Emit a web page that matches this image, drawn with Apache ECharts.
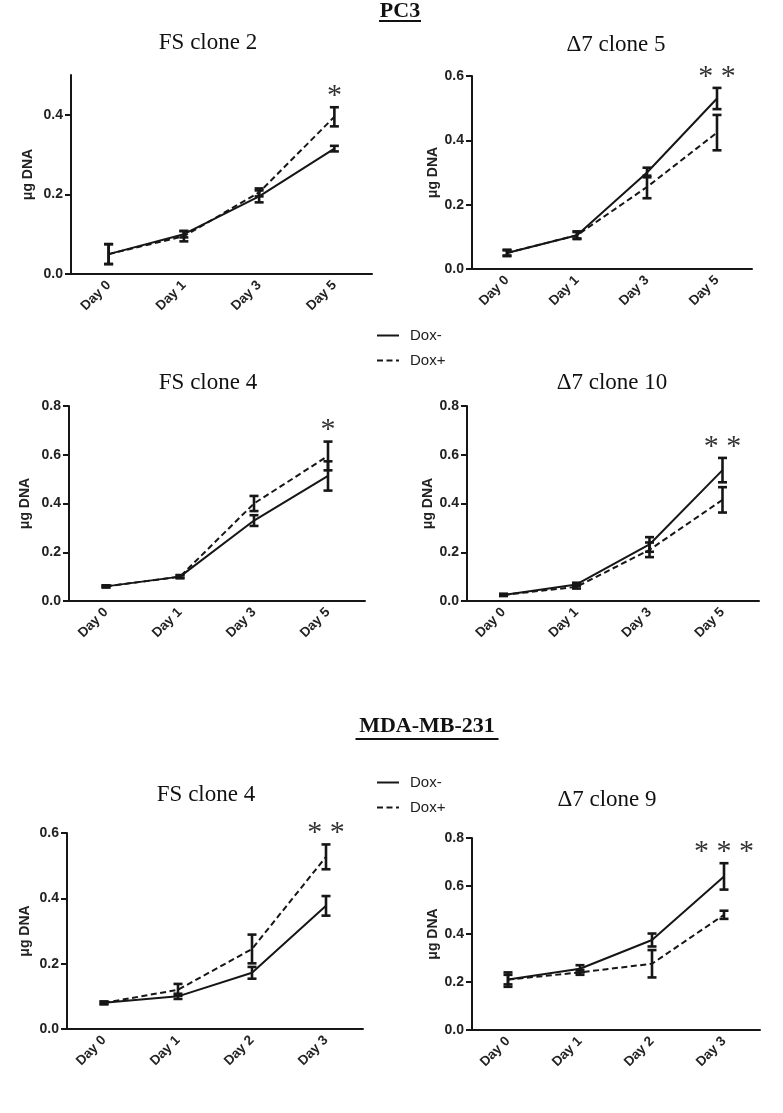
<!DOCTYPE html>
<html>
<head>
<meta charset="utf-8">
<script src="https://cdn.jsdelivr.net/npm/echarts@6/dist/echarts.min.js"></script>
<style>
html,body{margin:0;padding:0;background:#fff;}
#chart{width:783px;height:1113px;}
</style>
</head>
<body>
<div id="chart"></div>
<script>
// ---------- DATA ----------
const catsPC3 = ['Day 0', 'Day 1', 'Day 3', 'Day 5'];
const catsMDA = ['Day 0', 'Day 1', 'Day 2', 'Day 3'];
const seriesNames = ['Dox-', 'Dox+'];
const sectionTitles = ['PC3', 'MDA-MB-231'];
const panelTitles = ['FS clone 2', 'Δ7 clone 5', 'FS clone 4', 'Δ7 clone 10', 'FS clone 4', 'Δ7 clone 9'];
const sigLabels = ['*', '* *', '*', '* *', '* *', '* * *'];
const yAxisMax = [0.5, 0.6, 0.8, 0.8, 0.6, 0.8];
const yTicks02_04 = [0, 0.2, 0.4];
const yTicks02_06 = [0, 0.2, 0.4, 0.6];
const yTicks02_08 = [0, 0.2, 0.4, 0.6, 0.8];

// PC3 FS clone 2
const fs2Minus = [0.05, 0.10, 0.195, 0.315];
const fs2MinusErr = [0.025, 0.008, 0.015, 0.007];
const fs2Plus = [0.05, 0.095, 0.205, 0.395];
const fs2PlusErr = [0.025, 0.013, 0.01, 0.024];
// PC3 Δ7 clone 5
const d7c5Minus = [0.05, 0.105, 0.30, 0.53];
const d7c5MinusErr = [0.01, 0.012, 0.015, 0.033];
const d7c5Plus = [0.05, 0.105, 0.255, 0.424];
const d7c5PlusErr = [0.008, 0.01, 0.035, 0.055];
// PC3 FS clone 4
const fs4Minus = [0.06, 0.10, 0.33, 0.513];
const fs4MinusErr = [0.004, 0.006, 0.022, 0.06];
const fs4Plus = [0.06, 0.10, 0.40, 0.595];
const fs4PlusErr = [0.004, 0.006, 0.031, 0.059];
// PC3 Δ7 clone 10
const d7c10Minus = [0.025, 0.068, 0.232, 0.537];
const d7c10MinusErr = [0.004, 0.007, 0.03, 0.05];
const d7c10Plus = [0.025, 0.058, 0.21, 0.415];
const d7c10PlusErr = [0.004, 0.007, 0.03, 0.052];
// MDA-MB-231 FS clone 4
const mdaFs4Minus = [0.08, 0.10, 0.172, 0.377];
const mdaFs4MinusErr = [0.004, 0.008, 0.018, 0.03];
const mdaFs4Plus = [0.08, 0.12, 0.245, 0.527];
const mdaFs4PlusErr = [0.004, 0.018, 0.044, 0.038];
// MDA-MB-231 Δ7 clone 9
const d7c9Minus = [0.21, 0.255, 0.375, 0.64];
const d7c9MinusErr = [0.03, 0.015, 0.027, 0.055];
const d7c9Plus = [0.21, 0.24, 0.276, 0.48];
const d7c9PlusErr = [0.02, 0.01, 0.057, 0.017];

// ---------- LAYOUT ----------
const INK = '#161616';
const panels = [
  {cats: catsPC3, minus: fs2Minus, minusErr: fs2MinusErr, plus: fs2Plus, plusErr: fs2PlusErr, ticks: yTicks02_04,
   grid: {left: 71, top: 75, width: 301, height: 199}, titleX: 208, titleY: 43, nameGap: 36},
  {cats: catsPC3, minus: d7c5Minus, minusErr: d7c5MinusErr, plus: d7c5Plus, plusErr: d7c5PlusErr, ticks: yTicks02_06,
   grid: {left: 472, top: 76, width: 280, height: 193}, titleX: 616, titleY: 45, nameGap: 30},
  {cats: catsPC3, minus: fs4Minus, minusErr: fs4MinusErr, plus: fs4Plus, plusErr: fs4PlusErr, ticks: yTicks02_08,
   grid: {left: 69, top: 406, width: 296, height: 195}, titleX: 208, titleY: 383, nameGap: 37},
  {cats: catsPC3, minus: d7c10Minus, minusErr: d7c10MinusErr, plus: d7c10Plus, plusErr: d7c10PlusErr, ticks: yTicks02_08,
   grid: {left: 467, top: 406, width: 292, height: 195}, titleX: 612, titleY: 383, nameGap: 27},
  {cats: catsMDA, minus: mdaFs4Minus, minusErr: mdaFs4MinusErr, plus: mdaFs4Plus, plusErr: mdaFs4PlusErr, ticks: yTicks02_06,
   grid: {left: 67, top: 833, width: 296, height: 196}, titleX: 206, titleY: 795, nameGap: 35},
  {cats: catsMDA, minus: d7c9Minus, minusErr: d7c9MinusErr, plus: d7c9Plus, plusErr: d7c9PlusErr, ticks: yTicks02_08,
   grid: {left: 472, top: 838, width: 288, height: 192}, titleX: 607, titleY: 800, nameGap: 31}
];

const grids = [], xAxes = [], yAxes = [], series = [], graphics = [];

function errRender(params, api) {
  const x = api.value(0), lo = api.value(1), hi = api.value(2);
  const a = api.coord([x, lo]), b = api.coord([x, hi]);
  const hw = 4.5;
  const st = {stroke: INK, lineWidth: 2.6};
  return {type: 'group', children: [
    {type: 'line', shape: {x1: a[0], y1: a[1], x2: b[0], y2: b[1]}, style: st},
    {type: 'line', shape: {x1: a[0] - hw, y1: a[1], x2: a[0] + hw, y2: a[1]}, style: st},
    {type: 'line', shape: {x1: b[0] - hw, y1: b[1], x2: b[0] + hw, y2: b[1]}, style: st}
  ]};
}

panels.forEach((p, i) => {
  grids.push(Object.assign({containLabel: false}, p.grid));
  xAxes.push({
    type: 'category', gridIndex: i, data: p.cats, boundaryGap: true,
    axisLine: {lineStyle: {color: INK, width: 2}},
    axisTick: {alignWithLabel: true, length: 6, lineStyle: {color: INK, width: 2}},
    axisLabel: {rotate: 45, margin: 9, color: '#222', fontFamily: 'Liberation Sans', fontWeight: 'bold', fontSize: 13.5},
    splitLine: {show: false}
  });
  yAxes.push({
    type: 'value', gridIndex: i, min: 0, max: yAxisMax[i], interval: 0.2,
    name: 'μg DNA', nameLocation: 'middle', nameGap: p.nameGap, nameRotate: 90,
    nameTextStyle: {color: '#222', fontFamily: 'Liberation Sans', fontWeight: 'bold', fontSize: 14},
    axisLine: {show: true, lineStyle: {color: INK, width: 2}},
    axisTick: {show: true, length: 6, lineStyle: {color: INK, width: 2}, customValues: p.ticks},
    axisLabel: {color: '#222', fontFamily: 'Liberation Sans', fontWeight: 'bold', fontSize: 14, margin: 8,
      customValues: p.ticks, formatter: v => v.toFixed(1)},
    splitLine: {show: false}
  });
  const groups = [
    {name: seriesNames[0], vals: p.minus, errs: p.minusErr, dash: 'solid'},
    {name: seriesNames[1], vals: p.plus, errs: p.plusErr, dash: [6, 3.5]}
  ];
  groups.forEach(g => {
    series.push({
      type: 'line', name: g.name, xAxisIndex: i, yAxisIndex: i, data: g.vals,
      symbol: 'none', silent: true, animation: false,
      lineStyle: {color: INK, width: 2, type: g.dash}, itemStyle: {color: INK}
    });
    series.push({
      type: 'custom', name: g.name + ' err', xAxisIndex: i, yAxisIndex: i, renderItem: errRender,
      animation: false, silent: true, z: 3,
      data: g.vals.map((v, k) => [k, v - g.errs[k], v + g.errs[k]])
    });
  });
  // significance marker above the last time point
  const last = p.cats.length - 1;
  const top = Math.max(p.minus[last] + p.minusErr[last], p.plus[last] + p.plusErr[last]);
  series.push({
    type: 'custom', name: 'sig' + i, xAxisIndex: i, yAxisIndex: i, animation: false, silent: true,
    data: [[last, top]],
    renderItem: (params, api) => {
      const c = api.coord([api.value(0), api.value(1)]);
      return {type: 'text', x: c[0], y: c[1] - 11, style: {text: sigLabels[i], fill: '#333',
        font: '30px "Liberation Serif"', align: 'center', verticalAlign: 'middle'}};
    }
  });
  graphics.push({type: 'text', x: p.titleX, y: p.titleY, style: {text: panelTitles[i], fill: '#111',
    font: '23px "Liberation Serif"', align: 'center', verticalAlign: 'middle'}});
});

// section titles (bold, underlined)
const sectionPos = [{x: 400, y: 11, w: 42, uy: 21}, {x: 427, y: 726, w: 143, uy: 739}];
sectionTitles.forEach((t, k) => {
  const s = sectionPos[k];
  graphics.push({type: 'text', x: s.x, y: s.y, style: {text: t, fill: '#111',
    font: 'bold 22px "Liberation Serif"', align: 'center', verticalAlign: 'middle'}});
  graphics.push({type: 'rect', shape: {x: s.x - s.w / 2, y: s.uy - 1, width: s.w, height: 2}, style: {fill: '#111'}});
});

const legendBase = {
  orient: 'vertical', left: 371, itemWidth: 22, itemHeight: 14, itemGap: 10,
  selectedMode: false, data: seriesNames,
  itemStyle: {opacity: 0},
  lineStyle: {width: 2},
  textStyle: {color: '#222', fontFamily: 'Liberation Sans', fontSize: 15, padding: [0, 0, 0, 6], lineHeight: 14}
};

const chart = echarts.init(document.getElementById('chart'), null, {renderer: 'canvas'});
chart.setOption({
  backgroundColor: '#fff',
  animation: false,
  grid: grids,
  xAxis: xAxes,
  yAxis: yAxes,
  legend: [Object.assign({top: 323}, legendBase), Object.assign({top: 770}, legendBase)],
  series: series,
  graphic: graphics
});
</script>
</body>
</html>
